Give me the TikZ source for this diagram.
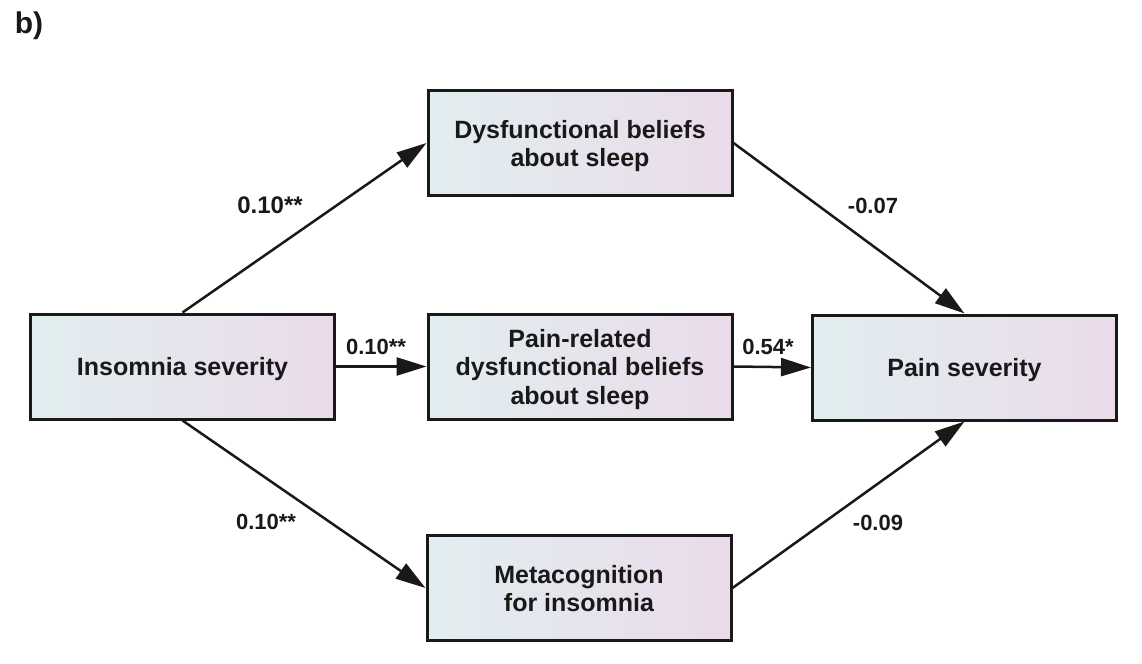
\documentclass[tikz,border=0pt]{standalone}
\usepackage{fontspec}
\setmainfont{Liberation Sans}
\usetikzlibrary{arrows.meta}
\definecolor{gl}{RGB}{225,238,240}
\definecolor{gr}{RGB}{235,219,234}
\definecolor{ink}{RGB}{25,25,25}
\newcommand{\bxtext}[1]{\raisebox{-1.9pt}[\height][\depth]{\begin{tabular}{@{}c@{}}#1\end{tabular}}}
\tikzset{
  box/.style={draw=ink, line width=1.5pt, left color=gl, right color=gr,
    minimum width=152pt, minimum height=52.5pt, inner sep=0pt,
    text=ink, font=\fontsize{12.5}{14.2}\selectfont\bfseries},
  conn/.style={draw=ink, line width=1.25pt, -{Triangle[length=15pt,width=9pt]}},
  coef/.style={text=ink, font=\fontsize{11}{13}\selectfont\bfseries, inner sep=0pt},
  coefbig/.style={text=ink, font=\fontsize{12}{14}\selectfont\bfseries, inner sep=0pt}
}
\begin{document}
\begin{tikzpicture}[x=0.5pt,y=-0.5pt]
\useasboundingbox (0,0) rectangle (1142,664);
\node[text=ink, font=\fontsize{15}{17}\selectfont\bfseries, inner sep=0pt] (lab) at (29,26) {b)};
\node[box] (ins) at (182.5,366.5) {\bxtext{Insomnia severity}};
\node[box] (pain) at (964.5,367.5) {\bxtext{Pain severity}};
\node[box] (dys) at (580,143) {\bxtext{Dysfunctional beliefs\\about sleep}};
\node[box] (prd) at (580,366.5) {\bxtext{Pain-related\\dysfunctional beliefs\\about sleep}};
\node[box] (meta) at (579,588) {\bxtext{Metacognition\\for insomnia}};
\draw[conn] (ins.north) -- (dys.west);
\draw[conn] (dys.east) -- (pain.north);
\draw[conn] (ins.east) -- (prd.west);
\draw[conn] (prd.east) -- (pain.west);
\draw[conn] (ins.south) -- (meta.west);
\draw[conn] (meta.east) -- (pain.south);
\node[coefbig] (c1) at (270,205) {0.10**};
\node[coef] (c2) at (873,206) {-0.07};
\node[coef] (c3) at (376,347) {0.10**};
\node[coef] (c4) at (768,347) {0.54*};
\node[coef] (c5) at (266,522) {0.10**};
\node[coef] (c6) at (878,523) {-0.09};
\end{tikzpicture}
\end{document}
